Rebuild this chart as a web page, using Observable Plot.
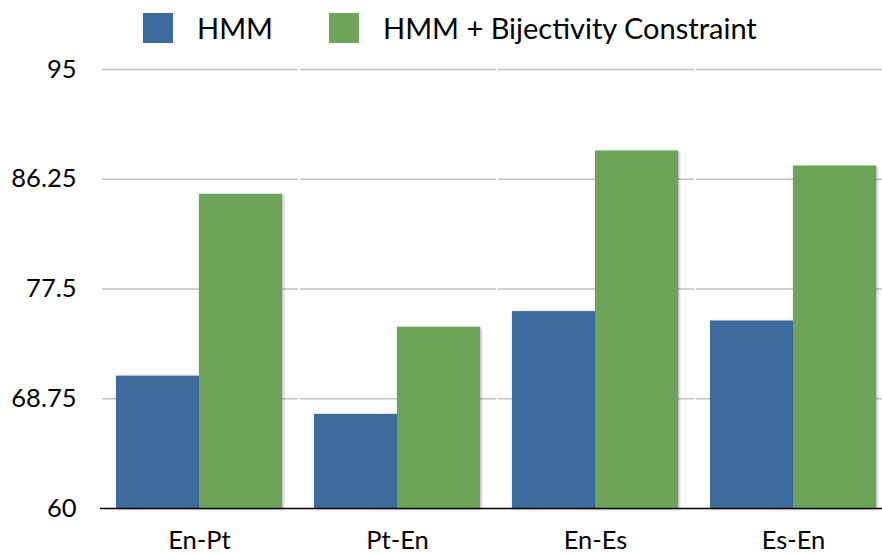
<!DOCTYPE html>
<html><head><meta charset="utf-8">
<script src="https://cdn.jsdelivr.net/npm/d3@7"></script>
<script src="https://cdn.jsdelivr.net/npm/@observablehq/plot@0.6"></script>
<style>
html,body{margin:0;padding:0;overflow:hidden;background:#fff;font-family:Lato,"Open Sans",sans-serif;}
#legend{position:relative;height:55px;font-size:29px;color:#000}
#legend .item{position:absolute;top:0;height:55px;display:flex;align-items:center}
#legend .sw{width:30px;height:30px;margin-right:24px}
#chart svg{display:block;max-width:none}
</style></head><body>
<div id="legend"></div>
<div id="chart"></div>
<script>
const categories = ["En-Pt", "Pt-En", "En-Es", "Es-En"];
const seriesNames = ["HMM", "HMM + Bijectivity Constraint"];
const hmmValues = [70.55, 67.5, 75.7, 74.95];
const bijValues = [85.05, 74.45, 88.5, 87.3];
const yTicks = [60, 68.75, 77.5, 86.25, 95];
const colors = ["#3d6b9c", "#6ca55a"];

const data = categories.flatMap((c, i) => [
  {cat: c, series: seriesNames[0], value: hmmValues[i]},
  {cat: c, series: seriesNames[1], value: bijValues[i]}
]);

const legend = document.getElementById("legend");
const legendLefts = [143, 329];
seriesNames.forEach((s, i) => {
  const it = document.createElement("div");
  it.className = "item";
  it.style.left = legendLefts[i] + "px";
  const sw = document.createElement("div");
  sw.className = "sw";
  sw.style.background = colors[i];
  const t = document.createElement("span");
  t.textContent = s;
  it.appendChild(sw); it.appendChild(t);
  legend.appendChild(it);
});

const chart = Plot.plot({
  width: 892,
  height: 500,
  marginTop: 14,
  marginBottom: 47,
  marginLeft: 100,
  marginRight: 0,
  style: {fontFamily: "Lato, 'Open Sans', sans-serif", fontSize: "25.5px", color: "#000", background: "#fff", overflow: "visible"},
  fx: {domain: categories, paddingInner: 0.162, paddingOuter: 0.081, label: null, axis: "bottom", tickSize: 0, tickPadding: 22},
  x: {domain: seriesNames, padding: 0, axis: null},
  y: {domain: [60, 95], ticks: yTicks, tickFormat: d => String(d), label: null, tickSize: 0, tickPadding: 40},
  color: {domain: seriesNames, range: colors},
  marks: [
    Plot.ruleY(yTicks.slice(1), {stroke: "#c2c2c2", strokeWidth: 1.5, insetLeft: -14, insetRight: -16}),
    Plot.barY(data, {fx: "cat", x: "series", y1: 60, y2: "value", fill: "series"}),
    Plot.ruleY([60], {stroke: "#000", strokeWidth: 1.5, insetLeft: -16, insetRight: -16})
  ]
});
d3.select(chart).selectAll("g[aria-label=bar] rect")
  .style("filter", "drop-shadow(1px 1px 1.5px rgba(0,0,0,0.35))");
document.getElementById("chart").appendChild(chart);
</script>
</body></html>
